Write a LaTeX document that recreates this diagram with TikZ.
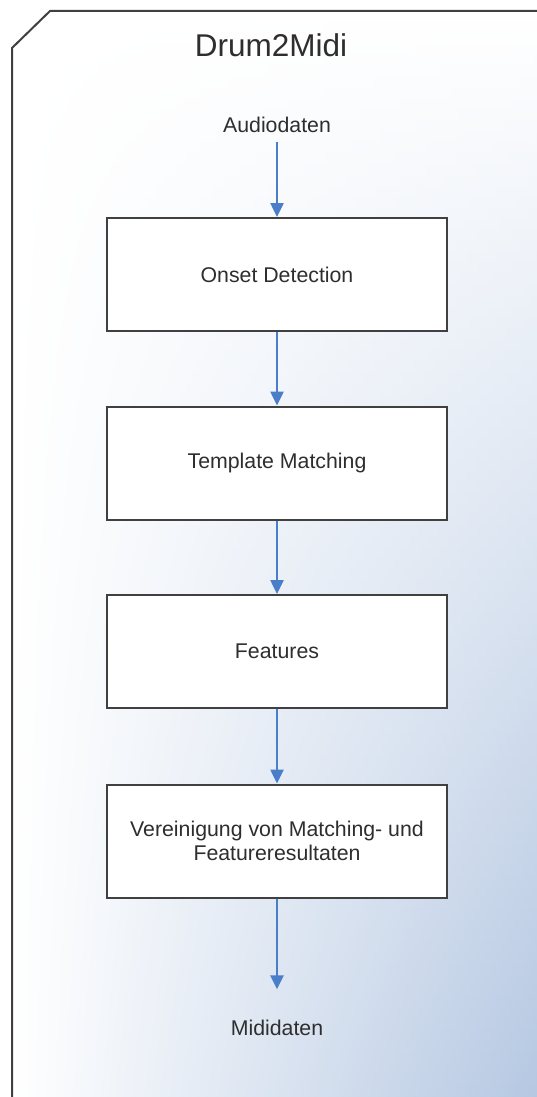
\documentclass[tikz,border=0pt]{standalone}
\usepackage{fontspec}
\setmainfont{Liberation Sans}
\usetikzlibrary{arrows.meta}
\definecolor{framegray}{HTML}{404040}
\definecolor{txtgray}{HTML}{2E2E2E}
\definecolor{arrblue}{HTML}{4A7EC8}
\definecolor{bgblue}{HTML}{B3C6E1}
\tikzset{
  stepbox/.style={draw=framegray, line width=2pt, fill=white, minimum width=339.5pt, minimum height=113pt, inner sep=0pt, text=txtgray, font=\fontsize{21.3}{24}\selectfont, align=center},
  label/.style={text=txtgray, font=\fontsize{21.3}{24}\selectfont, inner sep=0pt},
  flow/.style={draw=arrblue, line width=2.5pt, -{Triangle[width=13pt,length=14pt]}}
}
\begin{document}
\begin{tikzpicture}[x=1pt,y=-1pt]
\fill[white] (0,0) rectangle (536,1097);
\useasboundingbox (0,0) rectangle (536,1097);
\begin{scope}
\clip (12,48) -- (50,11) -- (548,11) -- (548,1105) -- (12,1105) -- cycle;
\foreach \i in {0,...,99}{
  \pgfmathsetmacro\tt{\i+0.5}
  \pgfmathsetmacro\ya{11+\i*10.95}
  \pgfmathsetmacro\yb{\ya+11.4}
  \path[left color=white, right color=bgblue!\tt!white] (12,\ya) rectangle (548,\yb);
}
\end{scope}
\draw[framegray, line width=2pt] (12,1105) -- (12,48) -- (50,11) -- (548,11);
\node[anchor=base, text=txtgray, font=\fontsize{31.5}{36}\selectfont, inner sep=0pt] (title) at (271,57) {Drum2Midi};
\node[label, anchor=base] (audio) at (277,132) {Audiodaten};
\node[stepbox] (onset) at (277,274.5) {Onset Detection};
\node[stepbox] (tmpl) at (277,463) {Template Matching};
\node[stepbox] (feat) at (277,651.5) {Features};
\node[stepbox] (ver) at (277,841) {Vereinigung von Matching- und\\Featureresultaten};
\node[label, anchor=base] (midi) at (277,1035) {Mididaten};
\draw[flow, shorten <=10pt] (audio.south) -- (onset.north);
\draw[flow] (onset.south) -- (tmpl.north);
\draw[flow] (tmpl.south) -- (feat.north);
\draw[flow] (feat.south) -- (ver.north);
\draw[flow, shorten >=30pt] (ver.south) -- (midi.north);
\end{tikzpicture}
\end{document}
